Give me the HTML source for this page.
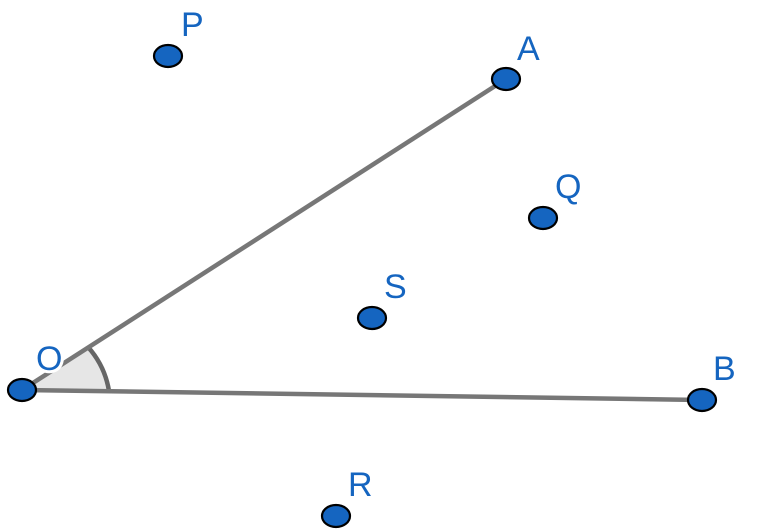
<!DOCTYPE html>
<html><head><style>body{margin:0;background:#fff}svg{display:block}</style></head><body>
<svg width="758" height="530" viewBox="0 0 758 530" xmlns="http://www.w3.org/2000/svg">
<path d="M22,390 L109,391 A87,87 0 0 0 88,347 Z" fill="#e6e6e6"/>
<path d="M109,391 A87,87 0 0 0 88,347" fill="none" stroke="#666" stroke-width="4.5"/>
<line x1="22" y1="390" x2="506" y2="79" stroke="#777" stroke-width="4.5"/>
<line x1="22" y1="390" x2="702" y2="400" stroke="#777" stroke-width="4.5"/>
<g fill="#1565c0" stroke="#000" stroke-width="2.2">
<ellipse cx="168" cy="56" rx="14" ry="11"/>
<ellipse cx="506" cy="79" rx="14" ry="11"/>
<ellipse cx="543" cy="218" rx="14" ry="11"/>
<ellipse cx="372" cy="318" rx="14" ry="11"/>
<ellipse cx="22" cy="390" rx="14" ry="11"/>
<ellipse cx="702" cy="400" rx="14" ry="11"/>
<ellipse cx="336" cy="516" rx="14" ry="11"/>
</g>
<g font-family="Liberation Sans, sans-serif" font-size="34" fill="#1565c0" stroke="#fff" stroke-width="6" paint-order="stroke">
<text x="181" y="36">P</text>
<text x="517" y="60">A</text>
<text x="555" y="198">Q</text>
<text x="384" y="298">S</text>
<text x="36" y="370">O</text>
<text x="713" y="380">B</text>
<text x="348" y="496">R</text>
</g>
</svg>
</body></html>
